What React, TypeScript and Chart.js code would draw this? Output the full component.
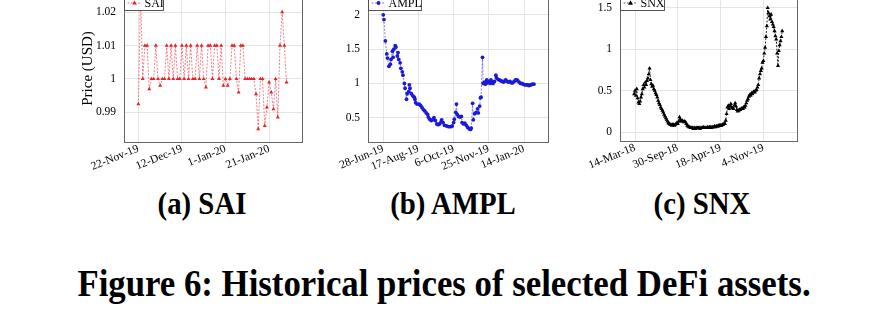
import React, { useEffect, useRef } from "react";
import { Chart, registerables } from "chart.js";
Chart.register(...registerables);

// ---------- data ----------
const saiStart = "22-Nov-19"; // daily values
const saiValues = [
  0.9925, 1.026, 1.0, 1.01, 1.01, 0.997, 1.0, 1.0, 1.01, 1.0, 0.998, 1.0, 1.0, 1.01, 1.0, 1.01, 1.0, 1.01,
  1.0, 1.0, 1.01, 1.0, 1.01, 1.0, 1.01, 1.0, 1.0, 1.01, 1.0, 1.01, 1.0, 0.9975, 1.01, 1.01, 1.0, 1.01, 1.01,
  1.0, 1.01, 0.998, 1.0, 0.998, 1.0, 1.01, 1.01, 1.0, 0.996, 1.01, 1.01, 1.0, 1.0, 1.0, 1.0, 1.0, 0.9955,
  0.985, 1.0, 1.0, 0.986, 0.9915, 0.999, 0.996, 0.991, 1.0, 0.9885, 1.01, 1.02, 1.01, 0.999,
];
const saiXTicks = ["22-Nov-19", "12-Dec-19", "1-Jan-20", "21-Jan-20"];
const saiYTicks = [0.99, 1.0, 1.01, 1.02];

const amplStart = "28-Jun-19";
const amplDays = [
  0, 1, 3, 5, 6, 8, 10, 11, 13, 14, 15, 17, 18, 20, 21, 22, 24, 25, 27, 28, 30, 31, 33, 34, 36, 37, 38, 40,
  42, 44, 45, 46, 48, 51, 53, 55, 57, 59, 61, 63, 64, 66, 68, 70, 72, 74, 76, 78, 80, 82, 83, 85, 87, 90, 93,
  96, 98, 100, 101, 103, 104, 105, 107, 109, 111, 112, 114, 116, 118, 120, 122, 124, 125, 127, 128, 130, 132,
  134, 135, 137, 138, 139, 141, 142, 144, 145, 147, 148, 150, 152, 153, 155, 156, 158, 160, 161, 163, 165,
  167, 169, 171, 173, 174, 176, 178, 180, 182, 184, 186, 188, 190, 191, 193, 195, 197, 199, 201, 203, 205,
  207, 209, 210, 212, 214,
];
const amplValues = [
  2.0, 1.93, 1.62, 1.43, 1.37, 1.25, 1.28, 1.35, 1.47, 1.38, 1.5, 1.55, 1.53, 1.4, 1.45, 1.35, 1.3, 1.22, 1.17,
  1.12, 1.0, 0.93, 0.77, 0.85, 0.88, 0.98, 0.93, 0.85, 0.82, 0.8, 0.77, 0.72, 0.7, 0.7, 0.68, 0.65, 0.62, 0.6,
  0.57, 0.55, 0.51, 0.48, 0.46, 0.47, 0.5, 0.46, 0.41, 0.4, 0.41, 0.44, 0.47, 0.43, 0.39, 0.38, 0.37, 0.37,
  0.38, 0.43, 0.48, 0.58, 0.7, 0.55, 0.52, 0.51, 0.52, 0.43, 0.41, 0.42, 0.39, 0.36, 0.34, 0.33, 0.35, 0.71,
  0.47, 0.56, 0.58, 0.63, 0.57, 0.67, 0.79, 0.8, 1.38, 1.0, 1.02, 0.99, 1.05, 1.01, 1.03, 1.0, 1.05, 1.02, 1.0,
  1.03, 1.12, 1.08, 1.06, 1.05, 1.04, 1.03, 1.02, 1.04, 1.05, 1.03, 1.02, 1.03, 1.01, 1.01, 1.03, 1.05, 1.05,
  1.04, 1.02, 1.0, 1.0, 0.99, 0.98, 0.98, 0.98, 0.97, 0.98, 0.98, 0.99, 0.99,
];
const amplXTicks = ["28-Jun-19", "17-Aug-19", "6-Oct-19", "25-Nov-19", "14-Jan-20"];
const amplYTicks = [0.5, 1, 1.5, 2];

const snxStart = "10-Mar-18"; // one value every 4 days
const snxStepDays = 4;
const snxValues = [
  0.46, 0.5, 0.44, 0.52, 0.41, 0.36, 0.34, 0.37, 0.42, 0.46, 0.52, 0.57, 0.54, 0.6, 0.57, 0.62, 0.65, 0.7, 0.77,
  0.63, 0.58, 0.55, 0.56, 0.52, 0.5, 0.47, 0.45, 0.42, 0.38, 0.35, 0.33, 0.3, 0.28, 0.26, 0.24, 0.21, 0.19, 0.17,
  0.15, 0.13, 0.11, 0.1, 0.09, 0.09, 0.08, 0.09, 0.09, 0.08, 0.09, 0.1, 0.11, 0.1, 0.13, 0.18, 0.15, 0.13, 0.14,
  0.13, 0.12, 0.13, 0.12, 0.1, 0.08, 0.07, 0.06, 0.06, 0.05, 0.05, 0.05, 0.04, 0.05, 0.05, 0.04, 0.05, 0.05,
  0.05, 0.05, 0.04, 0.05, 0.05, 0.05, 0.06, 0.05, 0.05, 0.05, 0.05, 0.06, 0.05, 0.06, 0.06, 0.05, 0.06, 0.06,
  0.06, 0.07, 0.06, 0.07, 0.07, 0.07, 0.08, 0.08, 0.08, 0.08, 0.09, 0.09, 0.1, 0.1, 0.14, 0.22, 0.3, 0.32, 0.28,
  0.31, 0.34, 0.3, 0.29, 0.28, 0.32, 0.35, 0.31, 0.27, 0.25, 0.26, 0.27, 0.27, 0.28, 0.29, 0.28, 0.3, 0.3, 0.32,
  0.35, 0.38, 0.4, 0.43, 0.45, 0.44, 0.47, 0.46, 0.48, 0.49, 0.48, 0.5, 0.51, 0.54, 0.57, 0.65, 0.7, 0.74, 0.77,
  0.84, 0.86, 0.95, 1.02, 1.15, 1.28, 1.5, 1.44, 1.4, 1.36, 1.42, 1.33, 1.3, 1.27, 1.22, 1.16, 1.12, 0.95, 0.8,
  0.98, 1.05, 1.1, 1.15, 1.22,
];
const snxXTicks = ["14-Mar-18", "30-Sep-18", "18-Apr-19", "4-Nov-19"];
const snxYTicks = [0, 0.5, 1, 1.5];

// ---------- helpers ----------
const MONTHS: Record<string, number> = {
  Jan: 0, Feb: 1, Mar: 2, Apr: 3, May: 4, Jun: 5, Jul: 6, Aug: 7, Sep: 8, Oct: 9, Nov: 10, Dec: 11,
};
function dayNum(label: string): number {
  const [d, m, y] = label.split("-");
  return Date.UTC(2000 + Number(y), MONTHS[m], Number(d)) / 86400000;
}

const SERIF = '"Liberation Serif", "Times New Roman", serif';

function drawMarker(ctx: CanvasRenderingContext2D, style: string, x: number, y: number, r: number) {
  ctx.beginPath();
  if (style === "triangle") {
    ctx.moveTo(x, y - r * 1.1);
    ctx.lineTo(x + r, y + r * 0.7);
    ctx.lineTo(x - r, y + r * 0.7);
    ctx.closePath();
  } else {
    ctx.arc(x, y, r, 0, Math.PI * 2);
  }
  ctx.fill();
}

type PlotSpec = {
  points: { x: number; y: number }[];
  label: string;
  color: string;
  lineColor: string;
  lineWidth: number;
  pointStyle: string;
  radius: number;
  xMin: number;
  xMax: number;
  yMin: number;
  yMax: number;
  xTicks: string[];
  yTicks: number[];
  yTitle?: string;
  padLeft: number;
  padTop: number;
  padRight: number;
  yWidth: number;
  xHeight: number;
  legendWidth: number;
};

function makeConfig(s: PlotSpec): any {
  const xTickDays = s.xTicks.map(dayNum);
  const framePlugin = {
    id: "frameLegend",
    afterDatasetsDraw(chart: any) {
      const { ctx, chartArea: a } = chart;
      ctx.save();
      ctx.strokeStyle = "#666";
      ctx.lineWidth = 1;
      ctx.strokeRect(Math.round(a.left) + 0.5, Math.round(a.top) + 0.5, Math.round(a.right - a.left), Math.round(a.bottom - a.top));
      // legend
      const lx = Math.round(a.left) + 0.5;
      const ly = Math.round(a.top) + 0.5;
      const h = 15;
      ctx.fillStyle = "#fff";
      ctx.fillRect(lx, ly, s.legendWidth, h);
      ctx.strokeStyle = "#444";
      ctx.lineWidth = 0.9;
      ctx.strokeRect(lx, ly, s.legendWidth, h);
      ctx.strokeStyle = s.lineColor;
      ctx.lineWidth = 0.7;
      ctx.setLineDash([2, 1.5]);
      ctx.beginPath();
      ctx.moveTo(lx + 3, ly + h / 2);
      ctx.lineTo(lx + 17, ly + h / 2);
      ctx.stroke();
      ctx.setLineDash([]);
      ctx.fillStyle = s.color;
      drawMarker(ctx, s.pointStyle, lx + 10, ly + h / 2, s.radius);
      ctx.fillStyle = "#000";
      ctx.font = `12px ${SERIF}`;
      ctx.textBaseline = "middle";
      ctx.fillText(s.label, lx + 20, ly + h / 2 + 1);
      ctx.restore();
    },
  };
  const tickFont = { family: SERIF, size: 11.5 };
  return {
    type: "line",
    data: {
      datasets: [
        {
          label: s.label,
          data: s.points,
          borderColor: s.lineColor,
          borderWidth: s.lineWidth,
          borderDash: [2, 1.5],
          backgroundColor: s.color,
          pointBackgroundColor: s.color,
          pointBorderColor: s.color,
          pointBorderWidth: 0,
          pointStyle: s.pointStyle,
          pointRadius: s.radius,
          tension: 0,
        },
      ],
    },
    options: {
      animation: false,
      responsive: true,
      maintainAspectRatio: false,
      layout: {
        autoPadding: false,
        padding: { left: s.padLeft, top: s.padTop, right: s.padRight, bottom: 0 },
      },
      plugins: { legend: { display: false }, tooltip: { enabled: false } },
      scales: {
        x: {
          type: "linear",
          min: s.xMin,
          max: s.xMax,
          afterBuildTicks: (axis: any) => {
            axis.ticks = xTickDays.map((v) => ({ value: v }));
          },
          afterFit: (axis: any) => {
            axis.height = s.xHeight;
          },
          grid: { color: "#dedede", lineWidth: 0.8, drawTicks: false },
          border: { display: false },
          ticks: {
            autoSkip: false,
            minRotation: 22,
            maxRotation: 22,
            padding: 0,
            color: "#000",
            font: tickFont,
            callback: (_v: any, i: number) => s.xTicks[i],
          },
        },
        y: {
          type: "linear",
          min: s.yMin,
          max: s.yMax,
          afterBuildTicks: (axis: any) => {
            axis.ticks = s.yTicks.map((v) => ({ value: v }));
          },
          afterFit: (axis: any) => {
            axis.width = s.yWidth;
          },
          grid: { color: "#dedede", lineWidth: 0.8, drawTicks: false },
          border: { display: false },
          ticks: {
            padding: 8,
            color: "#000",
            font: tickFont,
            callback: (_v: any, i: number) => String(s.yTicks[i]),
          },
          title: s.yTitle
            ? { display: true, text: s.yTitle, color: "#000", font: { family: SERIF, size: 15 }, padding: 0 }
            : { display: false },
        },
      },
    },
    plugins: [framePlugin],
  };
}

function Plot({ spec, left, top, width, height }: { spec: PlotSpec; left: number; top: number; width: number; height: number }) {
  const ref = useRef<HTMLCanvasElement>(null);
  useEffect(() => {
    const chart = new Chart(ref.current as HTMLCanvasElement, makeConfig(spec));
    return () => chart.destroy();
  }, []);
  return (
    <div style={{ position: "absolute", left, top, width, height }}>
      <canvas ref={ref} />
    </div>
  );
}

// ---------- specs ----------
const sai0 = dayNum(saiStart);
const saiSpec: PlotSpec = {
  points: saiValues.map((v, i) => ({ x: sai0 + i, y: v })),
  label: "SAI",
  color: "#e8202a",
  lineColor: "rgba(235,40,50,0.85)",
  lineWidth: 0.7,
  pointStyle: "triangle",
  radius: 2.3,
  xMin: dayNum("22-Nov-19") - 6.6,
  xMax: dayNum("21-Jan-20") + 15.1,
  yMin: 0.98114,
  yMax: 1.02514,
  xTicks: saiXTicks,
  yTicks: saiYTicks,
  yTitle: "Price (USD)",
  padLeft: 19,
  padTop: 8,
  padRight: 8,
  yWidth: 45,
  xHeight: 28,
  legendWidth: 39,
};

const ampl0 = dayNum(amplStart);
const amplSpec: PlotSpec = {
  points: amplDays.map((d, i) => ({ x: ampl0 + d, y: amplValues[i] })),
  label: "AMPL",
  color: "#1a1ad8",
  lineColor: "rgba(40,40,230,0.85)",
  lineWidth: 0.7,
  pointStyle: "circle",
  radius: 1.9,
  xMin: dayNum("28-Jun-19") - 21.7,
  xMax: dayNum("14-Jan-20") + 34.1,
  yMin: 0.147,
  yMax: 2.29,
  xTicks: amplXTicks,
  yTicks: amplYTicks,
  padLeft: 0,
  padTop: 12,
  padRight: 12,
  yWidth: 38,
  xHeight: 28,
  legendWidth: 53,
};

const snx0 = dayNum(snxStart);
const snxSpec: PlotSpec = {
  points: snxValues.map((v, i) => ({ x: snx0 + i * snxStepDays, y: v })),
  label: "SNX",
  color: "#000",
  lineColor: "rgba(0,0,0,0.85)",
  lineWidth: 1,
  pointStyle: "triangle",
  radius: 2.4,
  xMin: dayNum("14-Mar-18") - 70.2,
  xMax: dayNum("4-Nov-19") + 157,
  yMin: -0.108,
  yMax: 1.656,
  xTicks: snxXTicks,
  yTicks: snxYTicks,
  padLeft: 0,
  padTop: 14,
  padRight: 13,
  yWidth: 40,
  xHeight: 29,
  legendWidth: 44,
};

export default function App() {
  const capStyle: React.CSSProperties = {
    position: "absolute",
    width: 240,
    textAlign: "center",
    fontFamily: SERIF,
    fontWeight: "bold",
    fontSize: 32,
    lineHeight: "32px",
    color: "#000",
    whiteSpace: "nowrap",
    transform: "scaleX(0.9)",
  };
  return (
    <div
      style={{
        position: "absolute",
        left: 0,
        top: 0,
        width: 888,
        height: 318,
        overflow: "hidden",
        background: "#fff",
      }}
    >
      <Plot spec={saiSpec} left={60} top={-20} width={250} height={190} />
      <Plot spec={amplSpec} left={330} top={-20} width={230} height={190} />
      <Plot spec={snxSpec} left={580} top={-20} width={230} height={190} />
      <div style={{ ...capStyle, left: 202 - 120, top: 187 }}>(a) SAI</div>
      <div style={{ ...capStyle, left: 453 - 120, top: 187 }}>(b) AMPL</div>
      <div style={{ ...capStyle, left: 702 - 120, top: 187 }}>(c) SNX</div>
      <div
        style={{
          ...capStyle,
          left: 0,
          width: 888,
          top: 264,
          fontSize: 38,
          lineHeight: "38px",
          transform: "scaleX(0.915)",
        }}
      >
        Figure 6: Historical prices of selected DeFi assets.
      </div>
    </div>
  );
}
